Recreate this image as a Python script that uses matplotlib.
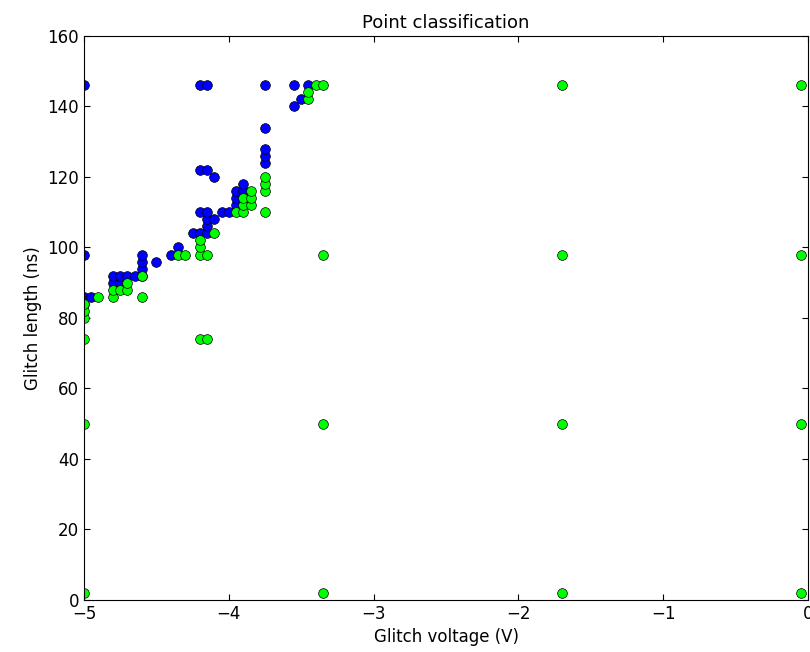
import numpy as np
import matplotlib
matplotlib.use("Agg")
import matplotlib.pyplot as plt

# Points that failed (blue)
blue_v = [-5, -5, -5, -5, -4.95,
          -4.8, -4.8, -4.75, -4.75, -4.7, -4.65,
          -4.6, -4.6, -4.6, -4.6,
          -4.5, -4.4, -4.35,
          -4.25, -4.2, -4.15, -4.15, -4.15, -4.1,
          -4.2, -4.15,
          -4.2, -4.15, -4.1,
          -4.2, -4.15,
          -4.05, -4.0,
          -3.95, -3.95, -3.95, -3.9, -3.9,
          -3.75, -3.75, -3.75, -3.75, -3.75,
          -3.55, -3.55, -3.5, -3.45]
blue_l = [146, 98, 84, 86, 86,
          90, 92, 90, 92, 92, 92,
          92, 94, 96, 98,
          96, 98, 100,
          104, 104, 104, 106, 108, 108,
          110, 110,
          122, 122, 120,
          146, 146,
          110, 110,
          112, 114, 116, 116, 118,
          124, 126, 128, 134, 146,
          140, 146, 142, 146]

# Points classified OK (green)
green_v = [-5, -5, -5, -5, -5, -5,
           -4.9, -4.8, -4.8, -4.75, -4.7, -4.7,
           -4.6, -4.6,
           -4.35, -4.3,
           -4.2, -4.2, -4.2, -4.15,
           -4.1,
           -4.2, -4.15,
           -3.95, -3.9, -3.9, -3.85, -3.9, -3.85, -3.85,
           -3.75, -3.75, -3.75, -3.75,
           -3.45, -3.45, -3.4,
           -3.35, -3.35, -3.35, -3.35,
           -1.7, -1.7, -1.7, -1.7,
           -0.05, -0.05, -0.05, -0.05]
green_l = [2, 50, 74, 80, 82, 84,
           86, 86, 88, 88, 88, 90,
           86, 92,
           98, 98,
           98, 100, 102, 98,
           104,
           74, 74,
           110, 110, 112, 112, 114, 114, 116,
           110, 116, 118, 120,
           142, 144, 146,
           146, 98, 50, 2,
           146, 98, 50, 2,
           146, 98, 50, 2]

fig = plt.figure(figsize=(8.1, 6.52), dpi=100)
ax = fig.add_axes([0.1037, 0.0798, 0.894, 0.865])

ax.plot(blue_v, blue_l, "o", color=(0, 0, 1), markeredgecolor="k",
        markeredgewidth=0.5, markersize=7)
ax.plot(green_v, green_l, "o", color=(0, 1, 0), markeredgecolor="k",
        markeredgewidth=0.5, markersize=7)

ax.set_xlim(-5, 0)
ax.set_ylim(0, 160)
ax.set_xticks(np.arange(-5, 1, 1))
ax.set_yticks(np.arange(0, 161, 20))
ax.tick_params(direction="in", top=True, right=True, length=4, labelsize=12)
ax.set_title("Point classification", fontsize=13)
ax.set_xlabel("Glitch voltage (V)", fontsize=12)
ax.set_ylabel("Glitch length (ns)", fontsize=12)

plt.savefig("out.png", dpi=100)
